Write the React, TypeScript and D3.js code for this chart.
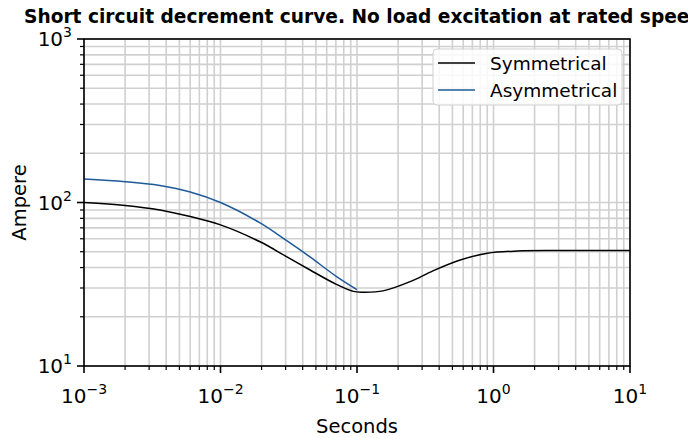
import React from "react";
import * as d3 from "d3";

const symTimes = [0.001, 0.002, 0.0036, 0.006, 0.01, 0.0195, 0.03, 0.045, 0.07, 0.094, 0.11, 0.155, 0.245, 0.36, 0.57, 0.9, 1.5, 3, 10];
const symValues = [100, 96, 90, 82, 73, 57.5, 47, 38.8, 31.7, 28.6, 28.3, 28.8, 32.8, 38.2, 44.5, 48.9, 50.5, 50.8, 50.8];
const asymTimes = [0.001, 0.002, 0.0036, 0.006, 0.01, 0.0195, 0.03, 0.045, 0.07, 0.1];
const asymValues = [139, 134, 127, 116, 100, 75, 59, 46.6, 35.5, 29.3];
const xTickExps = [-3, -2, -1, 0, 1];
const yTickExps = [1, 2, 3];
const seriesNames = ["Symmetrical", "Asymmetrical"];
const title = "Short circuit decrement curve. No load excitation at rated speed";

const W = 688, H = 438;
const L = 84, R = 630, T = 39, B = 366;
const FONT = "DejaVu Sans, sans-serif";

export default function App() {
  const x = d3.scaleLog().domain([1e-3, 1e1]).range([L, R]);
  const y = d3.scaleLog().domain([1e1, 1e3]).range([B, T]);
  const minorX: number[] = [];
  for (let e = -3; e < 1; e++) for (let m = 2; m <= 9; m++) minorX.push(m * Math.pow(10, e));
  const minorY: number[] = [];
  for (let e = 1; e < 3; e++) for (let m = 2; m <= 9; m++) minorY.push(m * Math.pow(10, e));
  const line = d3.line<[number, number]>().x(d => x(d[0])).y(d => y(d[1])).curve(d3.curveCatmullRom.alpha(0.5));
  const sym = line(symTimes.map((t, i) => [t, symValues[i]]) as [number, number][]) || "";
  const asym = line(asymTimes.map((t, i) => [t, asymValues[i]]) as [number, number][]) || "";
  const gridColor = "#d0d0d0";
  const blue = "#1f5a9a";
  return (
    <svg width={W} height={H} style={{ position: "absolute", left: 0, top: 0 }} fontFamily={FONT}>
      <rect width={W} height={H} fill="#fff" />
      <text x={24} y={23} textAnchor="start" fontWeight="bold" fontSize={18.6}>{title}</text>
      {[...minorX, ...xTickExps.map(e => Math.pow(10, e))].map((v, i) => (
        <line key={"gx" + i} x1={x(v)} x2={x(v)} y1={T} y2={B} stroke={gridColor} strokeWidth={1.6} />
      ))}
      {[...minorY, ...yTickExps.map(e => Math.pow(10, e))].map((v, i) => (
        <line key={"gy" + i} x1={L} x2={R} y1={y(v)} y2={y(v)} stroke={gridColor} strokeWidth={1.6} />
      ))}
      <path d={sym} fill="none" stroke="#000" strokeWidth={1.5} />
      <path d={asym} fill="none" stroke={blue} strokeWidth={1.5} />
      <rect x={L} y={T} width={R - L} height={B - T} fill="none" stroke="#000" strokeWidth={1.6} />
      {minorX.map((v, i) => (
        <line key={"mx" + i} x1={x(v)} x2={x(v)} y1={B} y2={B + 4} stroke="#000" strokeWidth={1.2} />
      ))}
      {minorY.map((v, i) => (
        <line key={"my" + i} x1={L - 4} x2={L} y1={y(v)} y2={y(v)} stroke="#000" strokeWidth={1.2} />
      ))}
      {xTickExps.map(e => (
        <g key={"xt" + e}>
          <line x1={x(Math.pow(10, e))} x2={x(Math.pow(10, e))} y1={B} y2={B + 7} stroke="#000" strokeWidth={1.6} />
          <text x={x(Math.pow(10, e))} y={403} textAnchor="middle" fontSize={20}>
            10<tspan fontSize={14} dy={-9}>{e < 0 ? "\u2212" + Math.abs(e) : String(e)}</tspan>
          </text>
        </g>
      ))}
      {yTickExps.map(e => (
        <g key={"yt" + e}>
          <line x1={L - 7} x2={L} y1={y(Math.pow(10, e))} y2={y(Math.pow(10, e))} stroke="#000" strokeWidth={1.6} />
          <text x={72} y={y(Math.pow(10, e)) + 7} textAnchor="end" fontSize={20}>
            10<tspan fontSize={14} dy={-9}>{String(e)}</tspan>
          </text>
        </g>
      ))}
      <text x={(L + R) / 2} y={433} textAnchor="middle" fontSize={19.5}>Seconds</text>
      <text transform={`translate(26,${(T + B) / 2}) rotate(-90)`} textAnchor="middle" fontSize={19.5}>Ampere</text>
      <rect x={433} y={49} width={189} height={56} rx={4} fill="#fff" fillOpacity={0.85} stroke="#d0d0d0" strokeWidth={1} />
      {seriesNames.map((n, i) => (
        <g key={n}>
          <line x1={438} x2={475} y1={63 + i * 27} y2={63 + i * 27} stroke={i === 0 ? "#000" : blue} strokeWidth={1.5} />
          <text x={490} y={63 + i * 27 + 6.5} fontSize={18.5}>{n}</text>
        </g>
      ))}
    </svg>
  );
}
